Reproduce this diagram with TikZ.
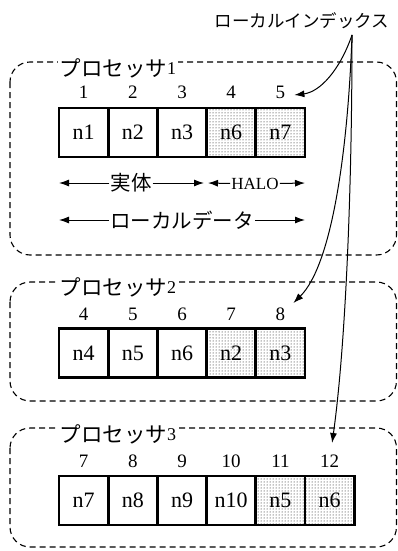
\documentclass[tikz,border=0pt]{standalone}
\usepackage{fontspec}
\setmainfont{Liberation Serif}
\newfontfamily\jp{Noto Sans CJK JP}
\usetikzlibrary{arrows.meta,patterns,calc}
\newcommand{\proclabel}[1]{{\jp\fontsize{21.5}{23}\selectfont プロセッサ}\raisebox{1.5pt}{\fontsize{18}{20}\selectfont #1}}
\begin{document}
\begin{tikzpicture}[x=1pt,y=-1pt,
  procbox/.style={draw, dash pattern=on 6pt off 4pt, line width=1.1pt, rounded corners=20pt},
  cell/.style={draw, line width=2.8pt, minimum width=49.2pt, minimum height=49pt, inner sep=0pt, font=\fontsize{22}{24}\selectfont},
  halocell/.style={cell, pattern=dots, pattern color=black},
  idx/.style={font=\fontsize{19}{21}\selectfont, inner sep=2pt},
  plabel/.style={fill=white, inner sep=1.5pt, anchor=west},
  jpbig/.style={font=\jp\fontsize{20.5}{22}\selectfont, inner sep=1pt},
  arr/.style={-{Latex[length=10pt,width=7pt]}, line width=1pt},
  curvearr/.style={-{Latex[length=10pt,width=7pt]}, line width=1pt}]
\useasboundingbox (0,0) rectangle (398,551);

% processor boxes
\draw[procbox] (10,62) rectangle (396.5,255);
\draw[procbox] (10,282) rectangle (396.5,401);
\draw[procbox] (10,428) rectangle (396.5,547);

\node[plabel] (p1l) at (58,68) {\proclabel{1}};
\node[plabel] (p2l) at (58,287) {\proclabel{2}};
\node[plabel] (p3l) at (58,434) {\proclabel{3}};

% processor 1 cells
\node[cell] (c11) at (83.6,132.5) {n1};
\node[cell] (c12) at (132.8,132.5) {n2};
\node[cell] (c13) at (182,132.5) {n3};
\node[halocell] (c14) at (231.2,132.5) {n6};
\node[halocell] (c15) at (280.4,132.5) {n7};
\foreach \i/\x in {1/83.6,2/132.8,3/182,4/231.2,5/280.4}
  \node[idx] (p1i\i) at (\x,92) {\i};

% processor 2 cells
\node[cell] (c21) at (83.6,353) {n4};
\node[cell] (c22) at (132.8,353) {n5};
\node[cell] (c23) at (182,353) {n6};
\node[halocell] (c24) at (231.2,353) {n2};
\node[halocell] (c25) at (280.4,353) {n3};
\foreach \i/\x/\t in {1/83.6/4,2/132.8/5,3/182/6,4/231.2/7,5/280.4/8}
  \node[idx] (p2i\i) at (\x,314) {\t};

% processor 3 cells
\node[cell] (c31) at (83.6,500.5) {n7};
\node[cell] (c32) at (132.8,500.5) {n8};
\node[cell] (c33) at (182,500.5) {n9};
\node[cell] (c34) at (231.2,500.5) {n10};
\node[halocell] (c35) at (280.4,500.5) {n5};
\node[halocell] (c36) at (329.6,500.5) {n6};
\foreach \i/\x/\t in {1/83.6/7,2/132.8/8,3/182/9,4/231.2/10,5/280.4/11,6/329.6/12}
  \node[idx] (p3i\i) at (\x,461) {\t};

% range arrows in processor 1
\coordinate (a1) at (59,183);
\coordinate (a2) at (204,183);
\coordinate (a3) at (208,183);
\coordinate (a4) at (305,183);
\coordinate (b1) at (59,220);
\coordinate (b2) at (305,220);
\node[jpbig] (jt) at (131,183) {実体};
\node[font=\fontsize{17}{19}\selectfont, inner sep=1pt] (halo) at (255,183.5) {HALO};
\node[jpbig] (ld) at (182,220) {ローカルデータ};
\draw[arr] (jt.west) -- (a1);
\draw[arr] (jt.east) -- (a2);
\draw[arr] (halo.west) -- (a3);
\draw[arr] (halo.east) -- (a4);
\draw[arr] (ld.west) -- (b1);
\draw[arr] (ld.east) -- (b2);

% local index label and arrows
\node[font=\jp\fontsize{17.5}{19}\selectfont] (li) at (302,21) {ローカルインデックス};
\coordinate (src) at (352,35);
\draw[curvearr] (src) .. controls (340,70) and (320,92) .. ($(p1i5.center)+(14,3)$);
\draw[curvearr] (src) .. controls (348,150) and (332,265) .. ($(p2i5.center)+(13,-11)$);
\draw[curvearr] (src) .. controls (352,200) and (345,350) .. ($(p3i6.center)+(2.5,-18)$);
\end{tikzpicture}
\end{document}
